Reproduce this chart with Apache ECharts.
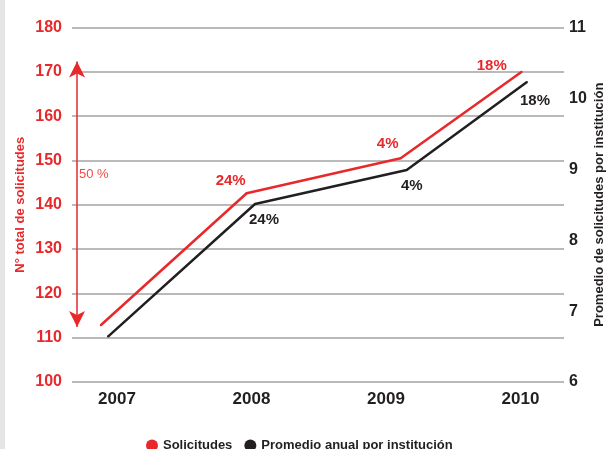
<!DOCTYPE html>
<html>
<head>
<meta charset="utf-8">
<script src="https://cdn.jsdelivr.net/npm/echarts@6/dist/echarts.min.js"></script>
<style>
  html, body { margin: 0; padding: 0; background: #fff; }
  #chart { width: 609px; height: 449px; }
</style>
</head>
<body>
<div id="chart"></div>
<script>
// Years shown on the horizontal axis
const years = ['2007', '2008', '2009', '2010'];

// Total requests per year (left axis)
const solicitudes = [112.8, 142.6, 150.5, 170.0];
// Where each red point sits along the year axis (0 = 2007)
const solicitudesAt = [-0.121, 0.964, 2.109, 3.009];
const solicitudesGrowth = ['', '24%', '4%', '18%'];

// Average requests per institution (right axis)
const promedio = [6.64, 8.51, 8.99, 10.23];
const promedioAt = [-0.067, 1.026, 2.154, 3.048];
const promedioGrowth = ['', '24%', '4%', '18%'];

// Axis ticks
const leftTicks = [100, 110, 120, 130, 140, 150, 160, 170, 180];
const rightTicks = [6, 7, 8, 9, 10, 11];

const RED = '#e8292b';
const DARK = '#231f20';
const FONT = '"Liberation Sans", Arial, sans-serif';

// label offsets (px) from each point to its growth tag
const redLabelOffset = [null, [-16, -12], [-13, -14], [-30, -6]];
const darkLabelOffset = [null, [9, 16], [5, 16], [8, 19]];

function buildPoints(xs, ys, tags, offsets, color) {
  return ys.map((y, i) => {
    const item = { value: [xs[i], y] };
    if (tags[i]) {
      item.label = {
        show: true,
        formatter: tags[i],
        position: 'inside',
        offset: offsets[i],
        color: color,
        fontFamily: FONT,
        fontWeight: 'bold',
        fontSize: 15
      };
    }
    return item;
  });
}

const chart = echarts.init(document.getElementById('chart'), null, { renderer: 'canvas' });

chart.setOption({
  animation: false,
  backgroundColor: '#ffffff',
  grid: { left: 72, right: 45, top: 27.5, bottom: 67, containLabel: false, outerBoundsMode: 'none' },
  legend: {
    data: ['Solicitudes', 'Promedio anual por institución'],
    left: 141,
    top: 434,
    icon: 'circle',
    itemWidth: 12,
    itemHeight: 12,
    itemGap: 12,
    textStyle: { fontFamily: FONT, fontWeight: 'bold', fontSize: 13, color: DARK }
  },
  xAxis: {
    type: 'value',
    min: -0.3346,
    max: 3.3234,
    axisLine: { show: false },
    axisTick: { show: false },
    splitLine: { show: false },
    axisLabel: {
      customValues: [0, 1, 2, 3],
      formatter: v => years[Math.round(v)],
      margin: 9,
      color: DARK,
      fontFamily: FONT,
      fontWeight: 'bold',
      fontSize: 17
    }
  },
  yAxis: [
    {
      type: 'value',
      min: leftTicks[0],
      max: leftTicks[leftTicks.length - 1],
      interval: 10,
      name: 'N° total de solicitudes',
      nameLocation: 'middle',
      nameRotate: 90,
      nameGap: 45,
      nameMoveOverlap: false,
      nameTextStyle: { color: RED, fontFamily: FONT, fontWeight: 'bold', fontSize: 13 },
      axisLine: { show: false },
      axisTick: { show: false },
      splitLine: { show: true, lineStyle: { color: '#a3a3a3', width: 1.5 } },
      axisLabel: { color: RED, fontFamily: FONT, fontWeight: 'bold', fontSize: 16, margin: 10 }
    },
    {
      type: 'value',
      position: 'right',
      min: rightTicks[0],
      max: rightTicks[rightTicks.length - 1],
      interval: 1,
      name: 'Promedio de solicitudes por institución',
      nameLocation: 'middle',
      nameRotate: 90,
      nameGap: 29,
      nameMoveOverlap: false,
      nameTextStyle: { color: DARK, fontFamily: FONT, fontWeight: 'bold', fontSize: 13 },
      axisLine: { show: false },
      axisTick: { show: false },
      splitLine: { show: false },
      axisLabel: { color: DARK, fontFamily: FONT, fontWeight: 'bold', fontSize: 16, margin: 5 }
    }
  ],
  series: [
    {
      name: 'Solicitudes',
      type: 'line',
      yAxisIndex: 0,
      data: buildPoints(solicitudesAt, solicitudes, solicitudesGrowth, redLabelOffset, RED),
      symbol: 'circle',
      symbolSize: 2,
      itemStyle: { color: RED },
      lineStyle: { color: RED, width: 2.5 },
      z: 3,
      // 50 % span between first and last year totals
      markLine: {
        silent: true,
        symbol: ['arrow', 'arrow'],
        symbolSize: [12, 16],
        label: { show: false },
        lineStyle: { color: RED, width: 1.5, type: 'solid' },
        data: [[{ coord: [-0.297, 172.3] }, { coord: [-0.297, 112.4] }]]
      }
    },
    {
      name: 'Promedio anual por institución',
      type: 'line',
      yAxisIndex: 1,
      data: buildPoints(promedioAt, promedio, promedioGrowth, darkLabelOffset, DARK),
      symbol: 'circle',
      symbolSize: 2,
      itemStyle: { color: DARK },
      lineStyle: { color: DARK, width: 2.5 },
      z: 3
    }
  ],
  graphic: [
    { type: 'rect', left: 0, top: 0, shape: { width: 5, height: 449 }, style: { fill: '#e4e5e7' } },
    {
      type: 'text', left: 79, top: 168,
      style: { text: '50 %', fill: '#ef4b45', font: '13px ' + FONT }
    }
  ]
});
</script>
</body>
</html>
